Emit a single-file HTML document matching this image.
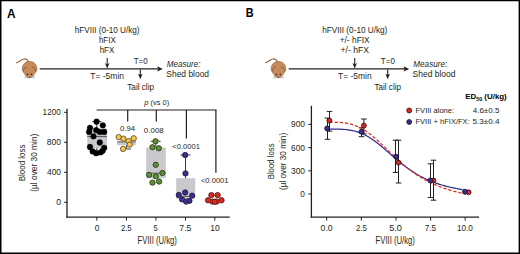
<!DOCTYPE html><html><head><meta charset="utf-8"><style>html,body{margin:0;padding:0;background:#fff;width:520px;height:254px;overflow:hidden}text{font-family:"Liberation Sans",sans-serif}</style></head><body><svg width="520" height="254" viewBox="0 0 520 254" style="display:block">
<rect x="0" y="0" width="520" height="254" fill="#fff"/>
<path d="M0,0 H520 V254 H0 Z M1.5,1.25 V252.55 H518.6 V1.25 Z" fill="#000" fill-rule="evenodd"/>
<text x="74.67" y="32.9" font-size="8.5" fill="#231f20" textLength="64.92" lengthAdjust="spacingAndGlyphs">hFVIII (0-10 U/kg)</text>
<text x="98.89" y="42.8" font-size="8.5" fill="#231f20" textLength="16.83" lengthAdjust="spacingAndGlyphs">hFIX</text>
<text x="99.66" y="52.8" font-size="8.5" fill="#231f20" textLength="14.73" lengthAdjust="spacingAndGlyphs">hFX</text>
<text x="90.29" y="79.1" font-size="8.6" fill="#231f20" textLength="33.77" lengthAdjust="spacingAndGlyphs">T= -5min</text>
<text x="133.75" y="63.9" font-size="8.4" fill="#231f20" textLength="13.92" lengthAdjust="spacingAndGlyphs">T=0</text>
<text x="127.28" y="89.9" font-size="8.9" fill="#231f20" textLength="26.78" lengthAdjust="spacingAndGlyphs">Tail clip</text>
<text x="166.75" y="66.8" font-size="8.6" font-style="italic" fill="#231f20" textLength="33.82" lengthAdjust="spacingAndGlyphs">Measure:</text>
<text x="166.37" y="76.7" font-size="8.6" fill="#231f20" textLength="42.69" lengthAdjust="spacingAndGlyphs">Shed blood</text>
<text x="322.25" y="33.0" font-size="8.5" fill="#231f20" textLength="65.10" lengthAdjust="spacingAndGlyphs">hFVIII (0-10 U/kg)</text>
<text x="339.65" y="42.8" font-size="8.5" fill="#231f20" textLength="30.01" lengthAdjust="spacingAndGlyphs">+/- hFIX</text>
<text x="340.52" y="52.8" font-size="8.5" fill="#231f20" textLength="28.51" lengthAdjust="spacingAndGlyphs">+/- hFX</text>
<text x="338.04" y="79.0" font-size="8.6" fill="#231f20" textLength="33.59" lengthAdjust="spacingAndGlyphs">T= -5min</text>
<text x="380.85" y="63.9" font-size="8.4" fill="#231f20" textLength="14.00" lengthAdjust="spacingAndGlyphs">T=0</text>
<text x="374.55" y="90.2" font-size="8.9" fill="#231f20" textLength="26.40" lengthAdjust="spacingAndGlyphs">Tail clip</text>
<text x="413.37" y="66.6" font-size="8.6" font-style="italic" fill="#231f20" textLength="33.79" lengthAdjust="spacingAndGlyphs">Measure:</text>
<text x="412.55" y="76.7" font-size="8.6" fill="#231f20" textLength="43.00" lengthAdjust="spacingAndGlyphs">Shed blood</text>
<text x="7.12" y="17.5" font-size="12.8" font-weight="bold" fill="#000" textLength="8.54" lengthAdjust="spacingAndGlyphs">A</text>
<text x="245.82" y="17.1" font-size="12.4" font-weight="bold" fill="#000" textLength="7.84" lengthAdjust="spacingAndGlyphs">B</text>
<text x="42.61" y="114.8" font-size="8.8" fill="#231f20" textLength="18.13" lengthAdjust="spacingAndGlyphs">1200</text>
<text x="46.84" y="144.6" font-size="8.8" fill="#231f20" textLength="14.14" lengthAdjust="spacingAndGlyphs">800</text>
<text x="47.00" y="174.6" font-size="8.8" fill="#231f20" textLength="14.07" lengthAdjust="spacingAndGlyphs">400</text>
<text x="56.13" y="204.6" font-size="8.8" fill="#231f20" textLength="4.83" lengthAdjust="spacingAndGlyphs">0</text>
<text x="94.70" y="230.8" font-size="9.2" fill="#231f20" textLength="4.67" lengthAdjust="spacingAndGlyphs">0</text>
<text x="120.89" y="230.8" font-size="9.2" fill="#231f20" textLength="10.82" lengthAdjust="spacingAndGlyphs">2.5</text>
<text x="153.55" y="230.8" font-size="9.2" fill="#231f20" textLength="4.12" lengthAdjust="spacingAndGlyphs">5</text>
<text x="179.30" y="230.8" font-size="9.2" fill="#231f20" textLength="12.12" lengthAdjust="spacingAndGlyphs">7.5</text>
<text x="210.21" y="230.8" font-size="9.2" fill="#231f20" textLength="9.48" lengthAdjust="spacingAndGlyphs">10</text>
<text x="137.57" y="243.9" font-size="10.0" fill="#231f20" textLength="39.33" lengthAdjust="spacingAndGlyphs">FVIII (U/kg)</text>
<text transform="translate(24.5,181.20) rotate(-90)" font-size="9.8" fill="#231f20" textLength="36.67" lengthAdjust="spacingAndGlyphs">Blood loss</text>
<text transform="translate(36.7,191.70) rotate(-90)" font-size="9.8" fill="#231f20" textLength="57.99" lengthAdjust="spacingAndGlyphs">(µl over 30 min)</text>
<text x="144.38" y="105.4" font-size="6.9" fill="#231f20" textLength="24.86" lengthAdjust="spacingAndGlyphs"><tspan font-style="italic">p</tspan> (vs 0)</text>
<text x="119.99" y="131.1" font-size="7.7" fill="#231f20" textLength="15.06" lengthAdjust="spacingAndGlyphs">0.94</text>
<text x="143.88" y="132.6" font-size="7.7" fill="#231f20" textLength="19.89" lengthAdjust="spacingAndGlyphs">0.008</text>
<text x="172.29" y="148.5" font-size="7.7" fill="#231f20" textLength="27.76" lengthAdjust="spacingAndGlyphs">&lt;0.0001</text>
<text x="200.90" y="183.4" font-size="7.7" fill="#231f20" textLength="27.67" lengthAdjust="spacingAndGlyphs">&lt;0.0001</text>
<text x="291.05" y="127.3" font-size="8.8" fill="#231f20" textLength="13.96" lengthAdjust="spacingAndGlyphs">900</text>
<text x="291.02" y="150.5" font-size="8.8" fill="#231f20" textLength="13.90" lengthAdjust="spacingAndGlyphs">600</text>
<text x="291.05" y="173.6" font-size="8.8" fill="#231f20" textLength="14.00" lengthAdjust="spacingAndGlyphs">300</text>
<text x="300.29" y="196.8" font-size="8.8" fill="#231f20" textLength="4.59" lengthAdjust="spacingAndGlyphs">0</text>
<text x="320.61" y="230.8" font-size="9.2" fill="#231f20" textLength="12.08" lengthAdjust="spacingAndGlyphs">0.0</text>
<text x="355.98" y="230.8" font-size="9.2" fill="#231f20" textLength="10.81" lengthAdjust="spacingAndGlyphs">2.5</text>
<text x="389.20" y="230.8" font-size="9.2" fill="#231f20" textLength="12.82" lengthAdjust="spacingAndGlyphs">5.0</text>
<text x="424.63" y="230.8" font-size="9.2" fill="#231f20" textLength="11.44" lengthAdjust="spacingAndGlyphs">7.5</text>
<text x="457.02" y="230.8" font-size="9.2" fill="#231f20" textLength="15.90" lengthAdjust="spacingAndGlyphs">10.0</text>
<text x="375.57" y="243.9" font-size="10.0" fill="#231f20" textLength="39.33" lengthAdjust="spacingAndGlyphs">FVIII (U/kg)</text>
<text transform="translate(273.9,179.30) rotate(-90)" font-size="9.8" fill="#231f20" textLength="35.81" lengthAdjust="spacingAndGlyphs">Blood loss</text>
<text transform="translate(285.5,190.08) rotate(-90)" font-size="9.8" fill="#231f20" textLength="57.20" lengthAdjust="spacingAndGlyphs">(µl over 30 min)</text>
<text x="465.19" y="98.6" font-size="7.9" font-weight="bold" fill="#000" textLength="41.56" lengthAdjust="spacingAndGlyphs">ED<tspan font-size="5.4" dy="1.9">50</tspan><tspan dy="-1.9"> (U/kg)</tspan></text>
<text x="415.49" y="112.6" font-size="8.0" fill="#231f20" textLength="38.60" lengthAdjust="spacingAndGlyphs">FVIII alone:</text>
<text x="472.73" y="112.6" font-size="8.0" fill="#231f20" textLength="26.63" lengthAdjust="spacingAndGlyphs">4.6±0.5</text>
<text x="415.49" y="123.9" font-size="8.0" fill="#231f20" textLength="54.26" lengthAdjust="spacingAndGlyphs">FVIII + hFIX/FX:</text>
<text x="472.57" y="123.9" font-size="8.0" fill="#231f20" textLength="26.90" lengthAdjust="spacingAndGlyphs">5.3±0.4</text>
<g transform="translate(0,0)">
<ellipse cx="26.0" cy="77.2" rx="2.0" ry="1.3" fill="#d4d6d8"/>
<ellipse cx="33.2" cy="77.2" rx="2.0" ry="1.3" fill="#d4d6d8"/>
<path d="M28.4,62.0 C28.0,59.6 26.2,58.6 23.8,59.0 C21.4,59.4 19.8,61.6 16.6,62.8" fill="none" stroke="#9a6640" stroke-width="1.15" stroke-linecap="round"/>
<path d="M29.6,61.4 C34.2,61.4 36.9,64.8 36.9,68.8 C36.9,71.8 35.0,72.8 34.0,74.6 C33.0,76.6 31.4,77.8 29.5,77.8 C27.6,77.8 26.0,76.6 25.0,74.6 C24.0,72.8 22.3,71.8 22.3,68.8 C22.3,64.8 25.0,61.4 29.6,61.4 Z" fill="#c78a5b" stroke="#8c5c38" stroke-width="0.6"/>
<path d="M23.6,71.2 C23.4,68.4 25.0,66.8 27.0,67.2" fill="none" stroke="#7e4e2e" stroke-width="0.75"/>
<path d="M35.4,71.2 C35.6,68.4 34.0,66.8 32.0,67.2" fill="none" stroke="#7e4e2e" stroke-width="0.75"/>
<circle cx="27.5" cy="74.4" r="0.8" fill="#3a2418"/>
<circle cx="31.4" cy="74.4" r="0.8" fill="#3a2418"/>
<circle cx="29.5" cy="77.1" r="0.6" fill="#5a3420"/>
</g>
<g transform="translate(248.9,0)">
<ellipse cx="26.0" cy="77.2" rx="2.0" ry="1.3" fill="#d4d6d8"/>
<ellipse cx="33.2" cy="77.2" rx="2.0" ry="1.3" fill="#d4d6d8"/>
<path d="M28.4,62.0 C28.0,59.6 26.2,58.6 23.8,59.0 C21.4,59.4 19.8,61.6 16.6,62.8" fill="none" stroke="#9a6640" stroke-width="1.15" stroke-linecap="round"/>
<path d="M29.6,61.4 C34.2,61.4 36.9,64.8 36.9,68.8 C36.9,71.8 35.0,72.8 34.0,74.6 C33.0,76.6 31.4,77.8 29.5,77.8 C27.6,77.8 26.0,76.6 25.0,74.6 C24.0,72.8 22.3,71.8 22.3,68.8 C22.3,64.8 25.0,61.4 29.6,61.4 Z" fill="#c78a5b" stroke="#8c5c38" stroke-width="0.6"/>
<path d="M23.6,71.2 C23.4,68.4 25.0,66.8 27.0,67.2" fill="none" stroke="#7e4e2e" stroke-width="0.75"/>
<path d="M35.4,71.2 C35.6,68.4 34.0,66.8 32.0,67.2" fill="none" stroke="#7e4e2e" stroke-width="0.75"/>
<circle cx="27.5" cy="74.4" r="0.8" fill="#3a2418"/>
<circle cx="31.4" cy="74.4" r="0.8" fill="#3a2418"/>
<circle cx="29.5" cy="77.1" r="0.6" fill="#5a3420"/>
</g>
<line x1="107.2" y1="57.9" x2="107.2" y2="65.6" stroke="#231f20" stroke-width="1.1" />
<path d="M104.9,62.99999999999999 L107.2,68.6 L109.5,62.99999999999999 L107.2,64.39999999999999 Z" fill="#231f20"/>
<line x1="39.7" y1="68.9" x2="159.8" y2="68.9" stroke="#231f20" stroke-width="1.3" />
<path d="M157.20000000000002,66.2 L162.8,68.9 L157.20000000000002,71.60000000000001 L158.3,68.9 Z" fill="#231f20"/>
<line x1="140.3" y1="69.4" x2="140.3" y2="76.3" stroke="#231f20" stroke-width="1.1" />
<path d="M138.0,73.7 L140.3,79.3 L142.60000000000002,73.7 L140.3,75.1 Z" fill="#231f20"/>
<line x1="354.7" y1="57.9" x2="354.7" y2="65.6" stroke="#231f20" stroke-width="1.1" />
<path d="M352.4,62.99999999999999 L354.7,68.6 L357.0,62.99999999999999 L354.7,64.39999999999999 Z" fill="#231f20"/>
<line x1="288.7" y1="68.9" x2="406.2" y2="68.9" stroke="#231f20" stroke-width="1.3" />
<path d="M403.59999999999997,66.2 L409.2,68.9 L403.59999999999997,71.60000000000001 L404.7,68.9 Z" fill="#231f20"/>
<line x1="387.7" y1="69.4" x2="387.7" y2="76.3" stroke="#231f20" stroke-width="1.1" />
<path d="M385.4,73.7 L387.7,79.3 L390.0,73.7 L387.7,75.1 Z" fill="#231f20"/>
<line x1="67.0" y1="108.7" x2="67.0" y2="217.7" stroke="#231f20" stroke-width="1.3" />
<line x1="66.4" y1="217.1" x2="229.8" y2="217.1" stroke="#231f20" stroke-width="1.2" />
<line x1="64.1" y1="112.30000000000001" x2="67.0" y2="112.30000000000001" stroke="#231f20" stroke-width="1.0" />
<line x1="64.1" y1="142.3" x2="67.0" y2="142.3" stroke="#231f20" stroke-width="1.0" />
<line x1="64.1" y1="172.3" x2="67.0" y2="172.3" stroke="#231f20" stroke-width="1.0" />
<line x1="64.1" y1="202.3" x2="67.0" y2="202.3" stroke="#231f20" stroke-width="1.0" />
<line x1="96.8" y1="217.1" x2="96.8" y2="220.6" stroke="#231f20" stroke-width="1.0" />
<line x1="126.4" y1="217.1" x2="126.4" y2="220.6" stroke="#231f20" stroke-width="1.0" />
<line x1="155.9" y1="217.1" x2="155.9" y2="220.6" stroke="#231f20" stroke-width="1.0" />
<line x1="185.5" y1="217.1" x2="185.5" y2="220.6" stroke="#231f20" stroke-width="1.0" />
<line x1="214.8" y1="217.1" x2="214.8" y2="220.6" stroke="#231f20" stroke-width="1.0" />
<line x1="96.6" y1="110.0" x2="216.5" y2="110.0" stroke="#231f20" stroke-width="1.2" />
<line x1="127.7" y1="110.0" x2="127.7" y2="121.6" stroke="#231f20" stroke-width="1.2" />
<line x1="156.3" y1="110.0" x2="156.3" y2="121.6" stroke="#231f20" stroke-width="1.2" />
<line x1="186.4" y1="110.0" x2="186.4" y2="138.4" stroke="#231f20" stroke-width="1.2" />
<line x1="215.9" y1="110.0" x2="215.9" y2="172.8" stroke="#231f20" stroke-width="1.2" />
<rect x="87.3" y="128.5" width="19.700000000000003" height="19.69999999999999" fill="#c9c8cd"/>
<line x1="87.3" y1="136.6" x2="107.0" y2="136.6" stroke="#555" stroke-width="1.0" />
<line x1="96.8" y1="121.6" x2="96.8" y2="128.5" stroke="#231f20" stroke-width="0.9" />
<line x1="92.3" y1="121.6" x2="101.3" y2="121.6" stroke="#231f20" stroke-width="0.9" />
<line x1="96.8" y1="148" x2="96.8" y2="154" stroke="#231f20" stroke-width="0.9" />
<circle cx="96.6" cy="121.7" r="2.9" fill="#000" stroke="#000" stroke-width="0.3"/>
<circle cx="102.8" cy="125.3" r="2.9" fill="#000" stroke="#000" stroke-width="0.3"/>
<circle cx="90" cy="127.8" r="2.9" fill="#000" stroke="#000" stroke-width="0.3"/>
<circle cx="96.2" cy="130.1" r="2.9" fill="#000" stroke="#000" stroke-width="0.3"/>
<circle cx="89.1" cy="131.9" r="2.9" fill="#000" stroke="#000" stroke-width="0.3"/>
<circle cx="104.2" cy="131.9" r="2.9" fill="#000" stroke="#000" stroke-width="0.3"/>
<circle cx="99.8" cy="131.9" r="2.9" fill="#000" stroke="#000" stroke-width="0.3"/>
<circle cx="93.5" cy="136.3" r="2.9" fill="#000" stroke="#000" stroke-width="0.3"/>
<circle cx="99.8" cy="142.5" r="2.9" fill="#000" stroke="#000" stroke-width="0.3"/>
<circle cx="90" cy="147" r="2.9" fill="#000" stroke="#000" stroke-width="0.3"/>
<circle cx="104.2" cy="147.8" r="2.9" fill="#000" stroke="#000" stroke-width="0.3"/>
<circle cx="92.7" cy="151.4" r="2.9" fill="#000" stroke="#000" stroke-width="0.3"/>
<circle cx="96.2" cy="153.2" r="2.9" fill="#000" stroke="#000" stroke-width="0.3"/>
<circle cx="100.6" cy="152.3" r="2.9" fill="#000" stroke="#000" stroke-width="0.3"/>
<circle cx="102.6" cy="150.8" r="2.9" fill="#000" stroke="#000" stroke-width="0.3"/>
<rect x="117.1" y="141.6" width="18.599999999999994" height="3.5999999999999943" fill="#c9c8cd"/>
<line x1="117.1" y1="141.9" x2="135.7" y2="141.9" stroke="#555" stroke-width="1.0" />
<line x1="126.6" y1="145.2" x2="126.6" y2="149.0" stroke="#231f20" stroke-width="0.9" />
<line x1="126.6" y1="149.0" x2="130.9" y2="149.0" stroke="#231f20" stroke-width="0.9" />
<circle cx="118.7" cy="137.1" r="3.3000000000000003" fill="none" stroke="#fff" stroke-opacity="0.4" stroke-width="0.5"/>
<circle cx="118.7" cy="137.1" r="2.7" fill="#f6c750" stroke="#3a2e0c" stroke-width="0.7"/>
<circle cx="123.4" cy="138.7" r="3.3000000000000003" fill="none" stroke="#fff" stroke-opacity="0.4" stroke-width="0.5"/>
<circle cx="123.4" cy="138.7" r="2.7" fill="#f6c750" stroke="#3a2e0c" stroke-width="0.7"/>
<circle cx="133.7" cy="138.3" r="3.3000000000000003" fill="none" stroke="#fff" stroke-opacity="0.4" stroke-width="0.5"/>
<circle cx="133.7" cy="138.3" r="2.7" fill="#f6c750" stroke="#3a2e0c" stroke-width="0.7"/>
<circle cx="128.6" cy="141.1" r="3.3000000000000003" fill="none" stroke="#fff" stroke-opacity="0.4" stroke-width="0.5"/>
<circle cx="128.6" cy="141.1" r="2.7" fill="#f6c750" stroke="#3a2e0c" stroke-width="0.7"/>
<circle cx="129.7" cy="144.6" r="3.3000000000000003" fill="none" stroke="#fff" stroke-opacity="0.4" stroke-width="0.5"/>
<circle cx="129.7" cy="144.6" r="2.7" fill="#f6c750" stroke="#3a2e0c" stroke-width="0.7"/>
<circle cx="123.1" cy="148.9" r="3.3000000000000003" fill="none" stroke="#fff" stroke-opacity="0.4" stroke-width="0.5"/>
<circle cx="123.1" cy="148.9" r="2.7" fill="#f6c750" stroke="#3a2e0c" stroke-width="0.7"/>
<rect x="146.2" y="147.6" width="19.600000000000023" height="30.599999999999994" fill="#c9c8cd"/>
<line x1="146.2" y1="173.2" x2="165.8" y2="173.2" stroke="#555" stroke-width="1.0" />
<line x1="155.8" y1="141.3" x2="155.8" y2="147.6" stroke="#231f20" stroke-width="0.9" />
<line x1="150.8" y1="141.3" x2="160.7" y2="141.3" stroke="#231f20" stroke-width="0.9" />
<circle cx="155.5" cy="141.3" r="3.3000000000000003" fill="none" stroke="#fff" stroke-opacity="0.4" stroke-width="0.5"/>
<circle cx="155.5" cy="141.3" r="2.7" fill="#5d9232" stroke="#16200c" stroke-width="0.7"/>
<circle cx="152.5" cy="147.2" r="3.3000000000000003" fill="none" stroke="#fff" stroke-opacity="0.4" stroke-width="0.5"/>
<circle cx="152.5" cy="147.2" r="2.7" fill="#5d9232" stroke="#16200c" stroke-width="0.7"/>
<circle cx="158.8" cy="148.3" r="3.3000000000000003" fill="none" stroke="#fff" stroke-opacity="0.4" stroke-width="0.5"/>
<circle cx="158.8" cy="148.3" r="2.7" fill="#5d9232" stroke="#16200c" stroke-width="0.7"/>
<circle cx="155.7" cy="164.8" r="3.3000000000000003" fill="none" stroke="#fff" stroke-opacity="0.4" stroke-width="0.5"/>
<circle cx="155.7" cy="164.8" r="2.7" fill="#5d9232" stroke="#16200c" stroke-width="0.7"/>
<circle cx="149.2" cy="174.9" r="3.3000000000000003" fill="none" stroke="#fff" stroke-opacity="0.4" stroke-width="0.5"/>
<circle cx="149.2" cy="174.9" r="2.7" fill="#5d9232" stroke="#16200c" stroke-width="0.7"/>
<circle cx="155.8" cy="176.3" r="3.3000000000000003" fill="none" stroke="#fff" stroke-opacity="0.4" stroke-width="0.5"/>
<circle cx="155.8" cy="176.3" r="2.7" fill="#5d9232" stroke="#16200c" stroke-width="0.7"/>
<circle cx="162.4" cy="173.0" r="3.3000000000000003" fill="none" stroke="#fff" stroke-opacity="0.4" stroke-width="0.5"/>
<circle cx="162.4" cy="173.0" r="2.7" fill="#5d9232" stroke="#16200c" stroke-width="0.7"/>
<circle cx="152.5" cy="182.6" r="3.3000000000000003" fill="none" stroke="#fff" stroke-opacity="0.4" stroke-width="0.5"/>
<circle cx="152.5" cy="182.6" r="2.7" fill="#5d9232" stroke="#16200c" stroke-width="0.7"/>
<circle cx="159.1" cy="181.5" r="3.3000000000000003" fill="none" stroke="#fff" stroke-opacity="0.4" stroke-width="0.5"/>
<circle cx="159.1" cy="181.5" r="2.7" fill="#5d9232" stroke="#16200c" stroke-width="0.7"/>
<rect x="176.2" y="178.2" width="19.0" height="20.80000000000001" fill="#c9c8cd"/>
<line x1="176.2" y1="196.4" x2="195.2" y2="196.4" stroke="#555" stroke-width="1.0" />
<line x1="185.5" y1="155.0" x2="185.5" y2="178.2" stroke="#231f20" stroke-width="0.9" />
<line x1="180.5" y1="155.0" x2="190.5" y2="155.0" stroke="#231f20" stroke-width="0.9" />
<circle cx="185.2" cy="155.0" r="3.3000000000000003" fill="none" stroke="#fff" stroke-opacity="0.4" stroke-width="0.5"/>
<circle cx="185.2" cy="155.0" r="2.7" fill="#3a2f8f" stroke="#0d0a26" stroke-width="0.7"/>
<circle cx="185.5" cy="173.4" r="3.3000000000000003" fill="none" stroke="#fff" stroke-opacity="0.4" stroke-width="0.5"/>
<circle cx="185.5" cy="173.4" r="2.7" fill="#3a2f8f" stroke="#0d0a26" stroke-width="0.7"/>
<circle cx="178.8" cy="195.0" r="3.3000000000000003" fill="none" stroke="#fff" stroke-opacity="0.4" stroke-width="0.5"/>
<circle cx="178.8" cy="195.0" r="2.7" fill="#3a2f8f" stroke="#0d0a26" stroke-width="0.7"/>
<circle cx="185.2" cy="192.5" r="3.3000000000000003" fill="none" stroke="#fff" stroke-opacity="0.4" stroke-width="0.5"/>
<circle cx="185.2" cy="192.5" r="2.7" fill="#3a2f8f" stroke="#0d0a26" stroke-width="0.7"/>
<circle cx="192.1" cy="195.6" r="3.3000000000000003" fill="none" stroke="#fff" stroke-opacity="0.4" stroke-width="0.5"/>
<circle cx="192.1" cy="195.6" r="2.7" fill="#3a2f8f" stroke="#0d0a26" stroke-width="0.7"/>
<circle cx="182.1" cy="199.4" r="3.3000000000000003" fill="none" stroke="#fff" stroke-opacity="0.4" stroke-width="0.5"/>
<circle cx="182.1" cy="199.4" r="2.7" fill="#3a2f8f" stroke="#0d0a26" stroke-width="0.7"/>
<circle cx="186.1" cy="201.6" r="3.3000000000000003" fill="none" stroke="#fff" stroke-opacity="0.4" stroke-width="0.5"/>
<circle cx="186.1" cy="201.6" r="2.7" fill="#3a2f8f" stroke="#0d0a26" stroke-width="0.7"/>
<circle cx="189.4" cy="200.8" r="3.3000000000000003" fill="none" stroke="#fff" stroke-opacity="0.4" stroke-width="0.5"/>
<circle cx="189.4" cy="200.8" r="2.7" fill="#3a2f8f" stroke="#0d0a26" stroke-width="0.7"/>
<circle cx="211.4" cy="195.1" r="3.3000000000000003" fill="none" stroke="#fff" stroke-opacity="0.4" stroke-width="0.5"/>
<circle cx="211.4" cy="195.1" r="2.7" fill="#e0261e" stroke="#2a0806" stroke-width="0.7"/>
<circle cx="217.6" cy="195.1" r="3.3000000000000003" fill="none" stroke="#fff" stroke-opacity="0.4" stroke-width="0.5"/>
<circle cx="217.6" cy="195.1" r="2.7" fill="#e0261e" stroke="#2a0806" stroke-width="0.7"/>
<circle cx="208.1" cy="200.3" r="3.3000000000000003" fill="none" stroke="#fff" stroke-opacity="0.4" stroke-width="0.5"/>
<circle cx="208.1" cy="200.3" r="2.7" fill="#e0261e" stroke="#2a0806" stroke-width="0.7"/>
<circle cx="221.5" cy="200.3" r="3.3000000000000003" fill="none" stroke="#fff" stroke-opacity="0.4" stroke-width="0.5"/>
<circle cx="221.5" cy="200.3" r="2.7" fill="#e0261e" stroke="#2a0806" stroke-width="0.7"/>
<circle cx="212.4" cy="201.6" r="3.3000000000000003" fill="none" stroke="#fff" stroke-opacity="0.4" stroke-width="0.5"/>
<circle cx="212.4" cy="201.6" r="2.7" fill="#e0261e" stroke="#2a0806" stroke-width="0.7"/>
<circle cx="216.7" cy="201.6" r="3.3000000000000003" fill="none" stroke="#fff" stroke-opacity="0.4" stroke-width="0.5"/>
<circle cx="216.7" cy="201.6" r="2.7" fill="#e0261e" stroke="#2a0806" stroke-width="0.7"/>
<circle cx="214.6" cy="201.8" r="3.3000000000000003" fill="none" stroke="#fff" stroke-opacity="0.4" stroke-width="0.5"/>
<circle cx="214.6" cy="201.8" r="2.7" fill="#e0261e" stroke="#2a0806" stroke-width="0.7"/>
<line x1="311.4" y1="105.8" x2="311.4" y2="217.7" stroke="#231f20" stroke-width="1.3" />
<line x1="310.8" y1="217.1" x2="479.0" y2="217.1" stroke="#231f20" stroke-width="1.2" />
<line x1="308.3" y1="124.39999999999999" x2="311.4" y2="124.39999999999999" stroke="#231f20" stroke-width="1.0" />
<line x1="308.3" y1="147.6" x2="311.4" y2="147.6" stroke="#231f20" stroke-width="1.0" />
<line x1="308.3" y1="170.8" x2="311.4" y2="170.8" stroke="#231f20" stroke-width="1.0" />
<line x1="308.3" y1="194.0" x2="311.4" y2="194.0" stroke="#231f20" stroke-width="1.0" />
<line x1="326.7" y1="217.1" x2="326.7" y2="220.6" stroke="#231f20" stroke-width="1.0" />
<line x1="361.3" y1="217.1" x2="361.3" y2="220.6" stroke="#231f20" stroke-width="1.0" />
<line x1="396.0" y1="217.1" x2="396.0" y2="220.6" stroke="#231f20" stroke-width="1.0" />
<line x1="430.6" y1="217.1" x2="430.6" y2="220.6" stroke="#231f20" stroke-width="1.0" />
<line x1="465.2" y1="217.1" x2="465.2" y2="220.6" stroke="#231f20" stroke-width="1.0" />
<line x1="327.5" y1="118.1" x2="327.5" y2="139.3" stroke="#231f20" stroke-width="1.0" />
<line x1="324.7" y1="118.1" x2="330.3" y2="118.1" stroke="#231f20" stroke-width="1.0" />
<line x1="324.7" y1="139.3" x2="330.3" y2="139.3" stroke="#231f20" stroke-width="1.0" />
<line x1="361.5" y1="127.8" x2="361.5" y2="136.7" stroke="#231f20" stroke-width="1.0" />
<line x1="358.7" y1="127.8" x2="364.3" y2="127.8" stroke="#231f20" stroke-width="1.0" />
<line x1="358.7" y1="136.7" x2="364.3" y2="136.7" stroke="#231f20" stroke-width="1.0" />
<line x1="395.5" y1="140.2" x2="395.5" y2="172.4" stroke="#231f20" stroke-width="1.0" />
<line x1="392.7" y1="140.2" x2="398.3" y2="140.2" stroke="#231f20" stroke-width="1.0" />
<line x1="392.7" y1="172.4" x2="398.3" y2="172.4" stroke="#231f20" stroke-width="1.0" />
<line x1="430.5" y1="163.8" x2="430.5" y2="197.5" stroke="#231f20" stroke-width="1.0" />
<line x1="427.7" y1="163.8" x2="433.3" y2="163.8" stroke="#231f20" stroke-width="1.0" />
<line x1="427.7" y1="197.5" x2="433.3" y2="197.5" stroke="#231f20" stroke-width="1.0" />
<line x1="329.5" y1="111.4" x2="329.5" y2="131.2" stroke="#231f20" stroke-width="1.0" />
<line x1="326.7" y1="111.4" x2="332.3" y2="111.4" stroke="#231f20" stroke-width="1.0" />
<line x1="326.7" y1="131.2" x2="332.3" y2="131.2" stroke="#231f20" stroke-width="1.0" />
<line x1="363.9" y1="119.0" x2="363.9" y2="133.9" stroke="#231f20" stroke-width="1.0" />
<line x1="361.09999999999997" y1="119.0" x2="366.7" y2="119.0" stroke="#231f20" stroke-width="1.0" />
<line x1="361.09999999999997" y1="133.9" x2="366.7" y2="133.9" stroke="#231f20" stroke-width="1.0" />
<line x1="398.5" y1="140.2" x2="398.5" y2="183.0" stroke="#231f20" stroke-width="1.0" />
<line x1="395.7" y1="140.2" x2="401.3" y2="140.2" stroke="#231f20" stroke-width="1.0" />
<line x1="395.7" y1="183.0" x2="401.3" y2="183.0" stroke="#231f20" stroke-width="1.0" />
<line x1="433.5" y1="160.2" x2="433.5" y2="200.2" stroke="#231f20" stroke-width="1.0" />
<line x1="430.7" y1="160.2" x2="436.3" y2="160.2" stroke="#231f20" stroke-width="1.0" />
<line x1="430.7" y1="200.2" x2="436.3" y2="200.2" stroke="#231f20" stroke-width="1.0" />
<path d="M326.70,129.03 L328.23,129.03 L329.75,129.03 L331.28,129.03 L332.80,129.04 L334.33,129.05 L335.86,129.07 L337.38,129.10 L338.91,129.14 L340.43,129.20 L341.96,129.28 L343.48,129.38 L345.01,129.51 L346.54,129.66 L348.06,129.85 L349.59,130.07 L351.11,130.33 L352.64,130.64 L354.17,130.99 L355.69,131.39 L357.22,131.84 L358.74,132.35 L360.27,132.91 L361.79,133.53 L363.32,134.20 L364.85,134.94 L366.37,135.73 L367.90,136.58 L369.42,137.49 L370.95,138.46 L372.48,139.48 L374.00,140.55 L375.53,141.67 L377.05,142.83 L378.58,144.02 L380.10,145.26 L381.63,146.52 L383.16,147.81 L384.68,149.12 L386.21,150.45 L387.73,151.78 L389.26,153.12 L390.79,154.46 L392.31,155.80 L393.84,157.13 L395.36,158.45 L396.89,159.75 L398.41,161.03 L399.94,162.29 L401.47,163.52 L402.99,164.73 L404.52,165.91 L406.04,167.06 L407.57,168.18 L409.10,169.27 L410.62,170.32 L412.15,171.34 L413.67,172.32 L415.20,173.27 L416.72,174.19 L418.25,175.07 L419.78,175.93 L421.30,176.74 L422.83,177.53 L424.35,178.29 L425.88,179.01 L427.41,179.71 L428.93,180.37 L430.46,181.01 L431.98,181.62 L433.51,182.21 L435.03,182.77 L436.56,183.31 L438.09,183.82 L439.61,184.32 L441.14,184.79 L442.66,185.24 L444.19,185.67 L445.72,186.08 L447.24,186.48 L448.77,186.85 L450.29,187.22 L451.82,187.56 L453.34,187.89 L454.87,188.21 L456.40,188.51 L457.92,188.80 L459.45,189.08 L460.97,189.35 L462.50,189.60" fill="none" stroke="#2e2a8a" stroke-width="1.2"/>
<path d="M329.40,122.24 L330.93,122.24 L332.47,122.24 L334.00,122.26 L335.54,122.28 L337.07,122.32 L338.61,122.38 L340.14,122.46 L341.68,122.58 L343.21,122.73 L344.75,122.91 L346.28,123.14 L347.82,123.42 L349.35,123.74 L350.89,124.12 L352.42,124.56 L353.96,125.05 L355.49,125.61 L357.03,126.23 L358.56,126.91 L360.10,127.66 L361.63,128.48 L363.17,129.36 L364.70,130.30 L366.24,131.31 L367.77,132.38 L369.31,133.51 L370.84,134.69 L372.38,135.93 L373.91,137.21 L375.44,138.54 L376.98,139.90 L378.51,141.30 L380.05,142.73 L381.58,144.18 L383.12,145.65 L384.65,147.13 L386.19,148.62 L387.72,150.12 L389.26,151.61 L390.79,153.10 L392.33,154.58 L393.86,156.05 L395.40,157.51 L396.93,158.94 L398.47,160.35 L400.00,161.74 L401.54,163.10 L403.07,164.43 L404.61,165.73 L406.14,167.00 L407.68,168.24 L409.21,169.45 L410.75,170.62 L412.28,171.75 L413.82,172.86 L415.35,173.93 L416.89,174.96 L418.42,175.96 L419.96,176.93 L421.49,177.86 L423.02,178.76 L424.56,179.63 L426.09,180.47 L427.63,181.28 L429.16,182.06 L430.70,182.81 L432.23,183.54 L433.77,184.23 L435.30,184.90 L436.84,185.55 L438.37,186.17 L439.91,186.77 L441.44,187.34 L442.98,187.89 L444.51,188.43 L446.05,188.94 L447.58,189.43 L449.12,189.90 L450.65,190.36 L452.19,190.80 L453.72,191.22 L455.26,191.62 L456.79,192.01 L458.33,192.39 L459.86,192.75 L461.40,193.10 L462.93,193.43 L464.47,193.76 L466.00,194.07" fill="none" stroke="#e0261e" stroke-width="1.2" stroke-dasharray="3.3,1.9"/>
<circle cx="329.4" cy="120.6" r="2.45" fill="#e0261e" stroke="#2a0806" stroke-width="0.8"/>
<circle cx="327.1" cy="128.4" r="2.45" fill="#3a2f8f" stroke="#0d0a26" stroke-width="0.8"/>
<circle cx="363.9" cy="125.6" r="2.45" fill="#e0261e" stroke="#2a0806" stroke-width="0.8"/>
<circle cx="361.5" cy="131.7" r="2.45" fill="#3a2f8f" stroke="#0d0a26" stroke-width="0.8"/>
<circle cx="396.0" cy="156.7" r="2.45" fill="#3a2f8f" stroke="#0d0a26" stroke-width="0.8"/>
<circle cx="398.5" cy="162.6" r="2.45" fill="#e0261e" stroke="#2a0806" stroke-width="0.8"/>
<circle cx="433.5" cy="180.5" r="2.45" fill="#e0261e" stroke="#2a0806" stroke-width="0.8"/>
<circle cx="430.3" cy="180.5" r="2.45" fill="#3a2f8f" stroke="#0d0a26" stroke-width="0.8"/>
<circle cx="468.6" cy="192.3" r="2.45" fill="#e0261e" stroke="#2a0806" stroke-width="0.8"/>
<circle cx="464.9" cy="191.7" r="2.45" fill="#3a2f8f" stroke="#0d0a26" stroke-width="0.8"/>
<circle cx="409.2" cy="110.5" r="2.45" fill="#e0261e" stroke="#2a0806" stroke-width="0.8"/>
<circle cx="409.2" cy="122.0" r="2.45" fill="#3a2f8f" stroke="#0d0a26" stroke-width="0.8"/>
</svg></body></html>
